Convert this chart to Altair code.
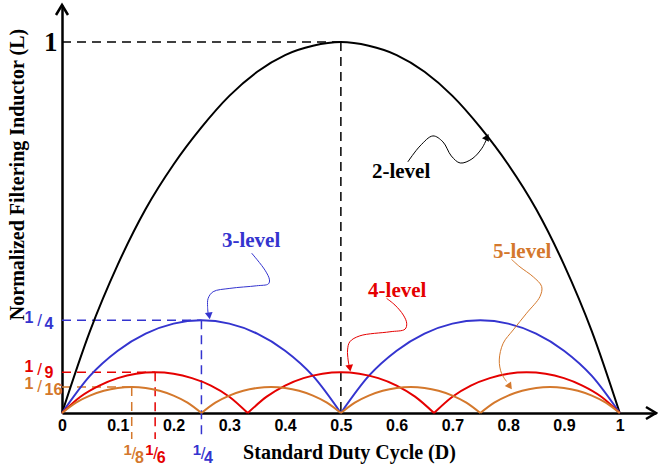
import altair as alt
import pandas as pd

BLACK = "#000000"
BLUE = "#3434CF"
RED = "#E50000"
ORANGE = "#D4782C"

# ---------------- curves ----------------
D2 = [0.0, 0.05, 0.1, 0.15, 0.2, 0.25, 0.3, 0.35, 0.4, 0.45, 0.5,
      0.55, 0.6, 0.65, 0.7, 0.75, 0.8, 0.85, 0.9, 0.95, 1.0]
L2 = [0.0, 0.22, 0.40, 0.55, 0.67, 0.77, 0.855, 0.92, 0.965, 0.99, 1.0,
      0.99, 0.965, 0.92, 0.855, 0.77, 0.67, 0.55, 0.40, 0.22, 0.0]
A2 = [1] * 21

D3 = [0.0, 0.05, 0.1, 0.15, 0.2, 0.25, 0.3, 0.35, 0.4, 0.45, 0.5,
      0.5, 0.55, 0.6, 0.65, 0.7, 0.75, 0.8, 0.85, 0.9, 0.95, 1.0]
L3 = [0.0, 0.10, 0.168, 0.214, 0.241, 0.25, 0.241, 0.214, 0.168, 0.10, 0.0,
      0.0, 0.10, 0.168, 0.214, 0.241, 0.25, 0.241, 0.214, 0.168, 0.10, 0.0]
A3 = [1] * 11 + [2] * 11

D4 = [0.0, 0.033, 0.067, 0.1, 0.133, 0.167, 0.2, 0.233, 0.267, 0.3, 0.333,
      0.333, 0.367, 0.4, 0.433, 0.467, 0.5, 0.533, 0.567, 0.6, 0.633, 0.667,
      0.667, 0.7, 0.733, 0.767, 0.8, 0.833, 0.867, 0.9, 0.933, 0.967, 1.0]
L4 = [0.0, 0.044, 0.074, 0.094, 0.106, 0.11, 0.106, 0.094, 0.074, 0.044, 0.0,
      0.0, 0.044, 0.074, 0.094, 0.106, 0.11, 0.106, 0.094, 0.074, 0.044, 0.0,
      0.0, 0.044, 0.074, 0.094, 0.106, 0.11, 0.106, 0.094, 0.074, 0.044, 0.0]
A4 = [1] * 11 + [2] * 11 + [3] * 11

D5 = [0.0, 0.025, 0.05, 0.075, 0.1, 0.125, 0.15, 0.175, 0.2, 0.225, 0.25,
      0.25, 0.275, 0.3, 0.325, 0.35, 0.375, 0.4, 0.425, 0.45, 0.475, 0.5,
      0.5, 0.525, 0.55, 0.575, 0.6, 0.625, 0.65, 0.675, 0.7, 0.725, 0.75,
      0.75, 0.775, 0.8, 0.825, 0.85, 0.875, 0.9, 0.925, 0.95, 0.975, 1.0]
L5 = [0.0, 0.028, 0.047, 0.06, 0.0675, 0.07, 0.0675, 0.06, 0.047, 0.028, 0.0,
      0.0, 0.028, 0.047, 0.06, 0.0675, 0.07, 0.0675, 0.06, 0.047, 0.028, 0.0,
      0.0, 0.028, 0.047, 0.06, 0.0675, 0.07, 0.0675, 0.06, 0.047, 0.028, 0.0,
      0.0, 0.028, 0.047, 0.06, 0.0675, 0.07, 0.0675, 0.06, 0.047, 0.028, 0.0]
A5 = [1] * 11 + [2] * 11 + [3] * 11 + [4] * 11

# ---------------- dashed guide lines ----------------
G_D = [0.0, 0.5, 0.0, 0.25, 0.0, 0.167, 0.0, 0.125]
G_D2 = [0.5, 0.5, 0.25, 0.25, 0.167, 0.167, 0.125, 0.125]
G_L = [1.0, 1.0, 0.25, 0.25, 0.11, 0.11, 0.07, 0.07]
G_L2 = [1.0, 0.0, 0.25, -0.07, 0.11, -0.07, 0.07, -0.07]
G_C = [BLACK, BLACK, BLUE, BLUE, RED, RED, ORANGE, ORANGE]

# ---------------- axis tick labels ----------------
X_TICKS = [0, 0.1, 0.2, 0.3, 0.4, 0.5, 0.6, 0.7, 0.8, 0.9, 1]
Y_TICKS = [1]

# ---------------- fraction labels ----------------
FL_NUM = ["1", "1", "1"]
FL_DEN = ["4", "9", "16"]
FL_L = [0.249, 0.117, 0.07]
FL_D = [-0.0403, -0.0403, -0.0403]
FL_C = [BLUE, RED, ORANGE]

FB_NUM = ["1", "1", "1"]
FB_DEN = ["8", "6", "4"]
FB_D = [0.129, 0.168, 0.253]
FB_L = [-0.1105, -0.1105, -0.1105]
FB_C = [ORANGE, RED, BLUE]

# ---------------- level labels ----------------
LV_TEXT = ["2-level", "3-level", "4-level", "5-level"]
LV_D = [0.608, 0.339, 0.601, 0.825]
LV_L = [0.634, 0.448, 0.313, 0.418]
LV_C = [BLACK, BLUE, RED, ORANGE]

# ---------------- annotation arrows ----------------
AN2_D = [0.620, 0.642, 0.665, 0.683, 0.698, 0.714, 0.735, 0.753, 0.762]
AN2_L = [0.677, 0.720, 0.747, 0.731, 0.693, 0.674, 0.685, 0.714, 0.741]
AN3_D = [0.340, 0.364, 0.372, 0.370, 0.349, 0.301, 0.271, 0.262, 0.261, 0.262]
AN3_L = [0.431, 0.385, 0.359, 0.348, 0.343, 0.336, 0.327, 0.309, 0.287, 0.268]
AN4_D = [0.582, 0.597, 0.612, 0.618, 0.615, 0.588, 0.534, 0.516, 0.512, 0.513, 0.515]
AN4_L = [0.309, 0.291, 0.264, 0.242, 0.226, 0.219, 0.208, 0.192, 0.170, 0.143, 0.125]
AN5_D = [0.806, 0.821, 0.845, 0.860, 0.857, 0.833, 0.809, 0.791, 0.784, 0.788, 0.797]
AN5_L = [0.414, 0.394, 0.367, 0.341, 0.314, 0.269, 0.224, 0.188, 0.143, 0.107, 0.085]

HEAD_D = [0.762, 0.264, 0.516, 0.803]
HEAD_L = [0.744, 0.262, 0.121, 0.0714]
HEAD_ANG = [207, 351, 350, 324]
HEAD_C = [BLACK, BLUE, RED, ORANGE]

# ================= build tables =================
rows = []
for name, D, L, A, col in [("2", D2, L2, A2, BLACK), ("3", D3, L3, A3, BLUE),
                           ("4", D4, L4, A4, RED), ("5", D5, L5, A5, ORANGE)]:
    for i, (d, l, a) in enumerate(zip(D, L, A)):
        rows.append({"D": d, "L": l, "arc": f"{name}-{a}", "color": col, "i": i})
curves_df = pd.DataFrame(rows)

guides_df = pd.DataFrame({"D": G_D, "D2": G_D2, "L": G_L, "L2": G_L2, "color": G_C})

ann_rows = []
for name, D, L, col in [("2", AN2_D, AN2_L, BLACK), ("3", AN3_D, AN3_L, BLUE),
                        ("4", AN4_D, AN4_L, RED), ("5", AN5_D, AN5_L, ORANGE)]:
    for i, (d, l) in enumerate(zip(D, L)):
        ann_rows.append({"D": d, "L": l, "ann": name, "color": col, "i": i})
ann_df = pd.DataFrame(ann_rows)

heads_df = pd.DataFrame({"D": HEAD_D, "L": HEAD_L, "ang": HEAD_ANG, "color": HEAD_C})
levels_df = pd.DataFrame({"D": LV_D, "L": LV_L, "t": LV_TEXT, "color": LV_C})
fl_df = pd.DataFrame({"D": FL_D, "L": FL_L, "num": FL_NUM, "den": FL_DEN, "color": FL_C})
fb_df = pd.DataFrame({"D": FB_D, "L": FB_L, "num": FB_NUM, "den": FB_DEN, "color": FB_C})
xarrow_df = pd.DataFrame({"D": [1.065], "L": [0.0]})
yarrow_df = pd.DataFrame({"D": [0.0], "L": [1.1]})

# ================= scales / axes =================
xs = alt.Scale(domain=[0, 1.065], nice=False, zero=False)
ys = alt.Scale(domain=[0, 1.1], nice=False, zero=False)

xaxis = alt.Axis(
    values=X_TICKS, grid=False, ticks=False,
    labelExpr="datum.value == 0 ? '0' : datum.value == 1 ? '1' : format(datum.value, '.1f')",
    labelFont="Liberation Sans", labelFontSize=16, labelFontWeight="bold", labelColor=BLACK,
    labelPadding=4, labelOverlap=False, labelFlush=False, labelBound=False,
    domainColor=BLACK, domainWidth=2.5,
    title="Standard Duty Cycle (D)", titleFont="Liberation Serif", titleFontSize=20,
    titleFontWeight="bold", titleColor=BLACK, titleX=287, titleY=45,
    titleAlign="center", titleBaseline="alphabetic",
)
yaxis = alt.Axis(
    values=Y_TICKS, grid=False, ticks=False, format="d",
    labelFont="Liberation Serif", labelFontSize=27, labelFontWeight="bold", labelColor=BLACK,
    labelPadding=5, labelBaseline="middle",
    domainColor=BLACK, domainWidth=2.5,
    title="Normalized Filtering Inductor (L)", titleFont="Liberation Serif", titleFontSize=20,
    titleFontWeight="bold", titleColor=BLACK, titleAngle=270, titleX=-45, titleY=169,
    titleAlign="center", titleBaseline="middle",
)


def X(field="D"):
    return alt.X(f"{field}:Q", scale=xs, axis=xaxis)


def Y(field="L"):
    return alt.Y(f"{field}:Q", scale=ys, axis=yaxis)


C = alt.Color("color:N", scale=None)

guides = alt.Chart(guides_df).mark_rule(strokeWidth=1.5, strokeDash=[9, 6]).encode(
    x=X(), x2="D2:Q", y=Y(), y2="L2:Q", color=C)

curves = alt.Chart(curves_df).mark_line(strokeWidth=2, interpolate="monotone").encode(
    x=X(), y=Y(), detail="arc:N", order="i:Q", color=C)

ann = alt.Chart(ann_df).mark_line(strokeWidth=1, interpolate="catmull-rom").encode(
    x=X(), y=Y(), detail="ann:N", order="i:Q", color=C)

heads = alt.Chart(heads_df).mark_point(shape="triangle-down", filled=True, size=60, opacity=1).encode(
    x=X(), y=Y(), angle=alt.Angle("ang:Q", scale=None), color=C)

levels = alt.Chart(levels_df).mark_text(
    font="Liberation Serif", fontSize=21, fontWeight="bold", baseline="alphabetic", align="center"
).encode(x=X(), y=Y(), text="t:N", color=C)

fl_num = alt.Chart(fl_df).mark_text(font="Liberation Sans", fontSize=16, fontWeight="bold",
                                    align="right", baseline="middle", dx=-6, dy=-3).encode(
    x=X(), y=Y(), text="num:N", color=C)
fl_sl = alt.Chart(fl_df).mark_text(font="Liberation Sans", fontSize=17, fontWeight="normal",
                                   align="center", baseline="middle", text="/").encode(
    x=X(), y=Y(), color=C)
fl_den = alt.Chart(fl_df).mark_text(font="Liberation Sans", fontSize=16, fontWeight="bold",
                                    align="left", baseline="middle", dx=5, dy=3).encode(
    x=X(), y=Y(), text="den:N", color=C)

fb_num = alt.Chart(fb_df).mark_text(font="Liberation Sans", fontSize=15, fontWeight="bold",
                                    align="right", baseline="middle", dx=-2, dy=-4).encode(
    x=X(), y=Y(), text="num:N", color=C)
fb_sl = alt.Chart(fb_df).mark_text(font="Liberation Sans", fontSize=17, fontWeight="normal",
                                   align="center", baseline="middle", text="/").encode(
    x=X(), y=Y(), color=C)
fb_den = alt.Chart(fb_df).mark_text(font="Liberation Sans", fontSize=16, fontWeight="bold",
                                    align="left", baseline="middle", dx=1, dy=4).encode(
    x=X(), y=Y(), text="den:N", color=C)

xarrow = alt.Chart(xarrow_df).mark_point(
    shape="M -1 -0.6 L 0 0 L -1 0.6", size=400, filled=False, strokeWidth=2.5,
    color=BLACK, opacity=1).encode(x=X(), y=Y())
yarrow = alt.Chart(yarrow_df).mark_point(
    shape="M -0.6 1 L 0 0 L 0.6 1", size=400, filled=False, strokeWidth=2.5,
    color=BLACK, opacity=1).encode(x=X(), y=Y())

chart = alt.layer(
    guides, curves, ann, heads, levels,
    fl_num, fl_sl, fl_den, fb_num, fb_sl, fb_den, xarrow, yarrow
).properties(
    width=594, height=408,
    autosize=alt.AutoSizeParams(type="none"),
    padding={"left": 62, "top": 5, "right": 2, "bottom": 55},
    background="white",
).configure_view(stroke="transparent")

chart.save("out.html", embed_options={"renderer": "svg", "actions": False})
